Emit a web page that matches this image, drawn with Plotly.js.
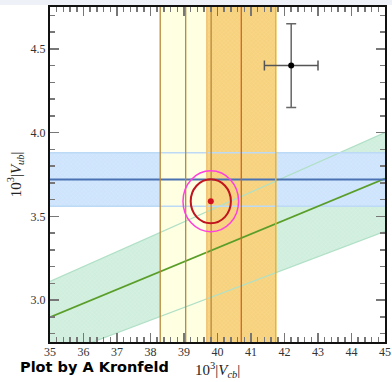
<!DOCTYPE html>
<html>
<head>
<meta charset="utf-8">
<script src="https://cdn.plot.ly/plotly-3.0.1.min.js"></script>
<style>html,body{margin:0;padding:0;background:#fff;}#plot{width:392px;height:382px;}</style>
</head>
<body>
<div id="plot"></div>
<script>
// ---- data ----
const xRange = [35, 45];
const yRange = [2.75, 4.75];
const vcbInclusive = [39.05, 0.76];   // center, half-width (yellow band)
const vcbExclusive = [40.71, 1.03];   // center, half-width (orange band)
const vubBand = [3.72, 0.16];         // center, half-width (blue band)
const ratioBand = [0.0828, 0.0758, 0.0889]; // |Vub/Vcb| center, lower, upper
const fitCenter = [39.8, 3.59];
const fitInner = [0.6, 0.131];        // semi-axes
const fitOuter = [0.83, 0.182];
const pointXY = [42.2, 4.4];
const pointErr = [0.8, 0.25];

const traces = [];
function band(xs, ys, fill, pat) {
  const t = {x: xs, y: ys, mode: 'lines', fill: 'toself', fillcolor: fill,
    line: {width: 0}, hoverinfo: 'skip'};
  if (pat) t.fillpattern = {shape: 'x', size: 3, solidity: 0.12, fgcolor: pat, bgcolor: fill};
  traces.push(t);
}
function line(xs, ys, color, w) {
  traces.push({x: xs, y: ys, mode: 'lines', line: {color: color, width: w}, hoverinfo: 'skip'});
}
// green ratio band
const gx = [xRange[0], xRange[1], xRange[1], xRange[0]];
band(gx, [ratioBand[2]*gx[0], ratioBand[2]*gx[1], ratioBand[1]*gx[2], ratioBand[1]*gx[3]], '#d0eedd', '#e8f8ef');
// blue band
band([xRange[0], xRange[1], xRange[1], xRange[0]],
     [vubBand[0]+vubBand[1], vubBand[0]+vubBand[1], vubBand[0]-vubBand[1], vubBand[0]-vubBand[1]], '#cde4fc', '#e6f2ff');
// yellow band
const yl = vcbInclusive[0]-vcbInclusive[1], yr = vcbInclusive[0]+vcbInclusive[1];
band([yl, yr, yr, yl], [yRange[0], yRange[0], yRange[1], yRange[1]], '#ffffe2');
// orange band
const ol = vcbExclusive[0]-vcbExclusive[1], orr = vcbExclusive[0]+vcbExclusive[1];
band([ol, orr, orr, ol], [yRange[0], yRange[0], yRange[1], yRange[1]], '#f7d27e', '#fbe3a6');
// lines
line(xRange, [ratioBand[1]*xRange[0], ratioBand[1]*xRange[1]], '#b0e0c6', 1.2);
line(xRange, [ratioBand[2]*xRange[0], ratioBand[2]*xRange[1]], '#b0e0c6', 1.2);
line(xRange, [vubBand[0]+vubBand[1], vubBand[0]+vubBand[1]], '#bcdaf6', 1.5);
line(xRange, [vubBand[0]-vubBand[1], vubBand[0]-vubBand[1]], '#bcdaf6', 1.5);
line(xRange, [ratioBand[0]*xRange[0], ratioBand[0]*xRange[1]], '#5a9e2a', 1.8);
line(xRange, [vubBand[0], vubBand[0]], '#4a72b2', 1.8);
line([ol, ol], yRange, '#f0bc6a', 1.2);
line([orr, orr], yRange, '#e8b42a', 1.5);
line([vcbExclusive[0], vcbExclusive[0]], yRange, '#d2641e', 1.3);
line([yl, yl], yRange, '#b8893a', 1.3);
line([vcbInclusive[0], vcbInclusive[0]], yRange, '#b8893a', 1.3);
line([yr, yr], yRange, '#b8893a', 1.3);
// fit central value
traces.push({x: [fitCenter[0]], y: [fitCenter[1]], mode: 'markers',
  marker: {color: '#d0101e', size: 6}, hoverinfo: 'skip'});
// measurement with error bars
traces.push({x: [pointXY[0]], y: [pointXY[1]], mode: 'markers',
  marker: {color: '#000', size: 6},
  error_x: {type: 'constant', value: pointErr[0], color: '#555', thickness: 1.5, width: 5},
  error_y: {type: 'constant', value: pointErr[1], color: '#666', thickness: 1.5, width: 5},
  hoverinfo: 'skip'});

const serif = 'Liberation Serif, Times New Roman, serif';
const axisCommon = {
  showline: true, linecolor: '#111', linewidth: 2, mirror: 'ticks',
  ticks: 'inside', ticklen: 9, tickwidth: 1.5, tickcolor: '#777',
  showgrid: false, zeroline: false,
  tickfont: {family: serif, size: 12, color: '#333'}
};
const layout = {
  width: 392, height: 382,
  margin: {l: 50, r: 7, t: 7, b: 40, pad: 0},
  paper_bgcolor: '#fff', plot_bgcolor: '#fff',
  showlegend: false,
  xaxis: Object.assign({}, axisCommon, {range: xRange, dtick: 1, tick0: 35, ticklabelstandoff: -2,
    minor: {dtick: 0.2, ticks: 'inside', ticklen: 5, tickwidth: 1.5, tickcolor: '#777'}}),
  yaxis: Object.assign({}, axisCommon, {range: yRange, dtick: 0.5, tick0: 3.0, tickformat: '.1f',
    minor: {dtick: 0.1, ticks: 'inside', ticklen: 5, tickwidth: 1.5, tickcolor: '#777'}}),
  shapes: [
    {type: 'rect', xref: 'paper', yref: 'paper', x0: -0.2, x1: 1.1, y0: 1.006, y1: 1.03,
     fillcolor: '#eff1f8', line: {width: 0}, layer: 'below'},
    {type: 'circle', xref: 'x', yref: 'y',
     x0: fitCenter[0]-fitOuter[0], x1: fitCenter[0]+fitOuter[0],
     y0: fitCenter[1]-fitOuter[1], y1: fitCenter[1]+fitOuter[1],
     line: {color: '#ff40dc', width: 1.5}, layer: 'above'},
    {type: 'circle', xref: 'x', yref: 'y',
     x0: fitCenter[0]-fitInner[0], x1: fitCenter[0]+fitInner[0],
     y0: fitCenter[1]-fitInner[1], y1: fitCenter[1]+fitInner[1],
     line: {color: '#c0141e', width: 2}, layer: 'above'}
  ],
  annotations: [
    {text: '10<sup>3</sup>|<i>V<sub>cb</sub></i>|', xref: 'paper', yref: 'paper', x: 0.5, y: -0.085,
     xanchor: 'center', yanchor: 'middle', showarrow: false,
     font: {family: serif, size: 15, color: '#222'}},
    {text: '10<sup>3</sup>|<i>V<sub>ub</sub></i>|', xref: 'paper', yref: 'paper', x: -0.105, y: 0.5,
     xanchor: 'center', yanchor: 'middle', showarrow: false, textangle: -90,
     font: {family: serif, size: 15, color: '#222'}},
    {text: '<b>Plot by A Kronfeld</b>', xref: 'paper', yref: 'paper', x: -0.095, y: -0.075,
     xanchor: 'left', yanchor: 'middle', showarrow: false,
     font: {family: 'DejaVu Sans, sans-serif', size: 14.5, color: '#000'}}
  ]
};
Plotly.newPlot('plot', traces, layout, {displayModeBar: false, staticPlot: true});
</script>
</body>
</html>
